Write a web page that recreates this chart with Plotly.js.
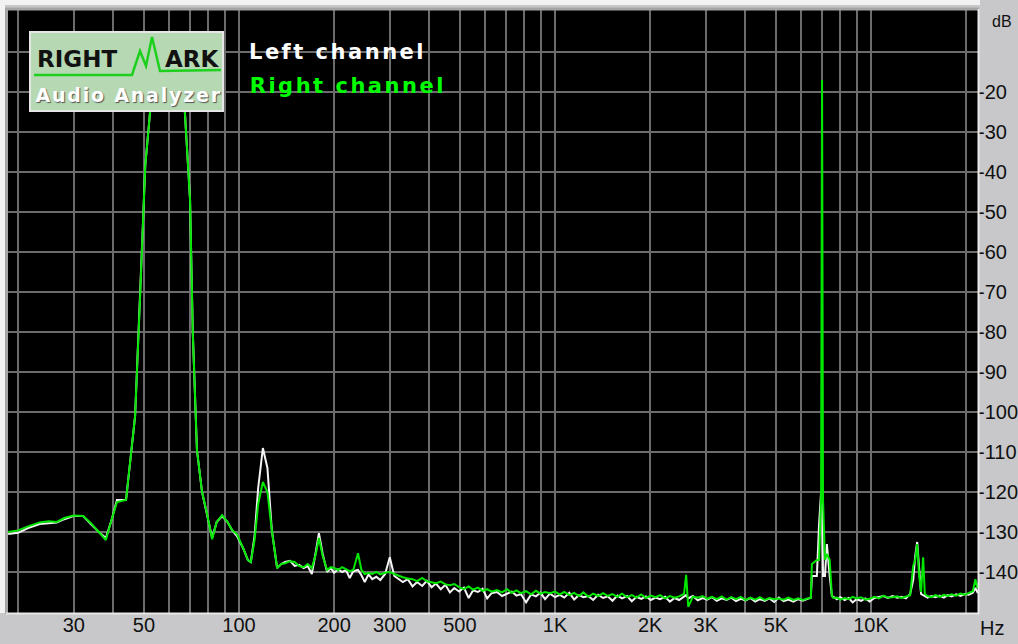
<!DOCTYPE html>
<html>
<head>
<meta charset="utf-8">
<script src="https://cdn.plot.ly/plotly-3.0.1.min.js"></script>
<style>
html,body{margin:0;padding:0;background:#c8c8cb;}
#chart{width:1018px;height:644px;}
g.annotation[data-index="0"] text, g.annotation[data-index="1"] text{letter-spacing:2.5px;}
g.annotation[data-index="4"] text{letter-spacing:1.8px;}
</style>
</head>
<body>
<div id="chart"></div>
<script>
// Frequencies (Hz) shared by both channels
const freq = [18.6,20,21.5,23.4,25,26.5,28,29.9,32.1,34,36,37.9,39.5,41.1,43.9,46.9,48.6,50.5,52.3,55,58,60,62,65,67.4,70,71.4,73.6,76.4,79,82.2,85,88.4,92,95,98.5,103,106.7,109,112,115,119,123,127,132,136,140,145,150,155,160,165,170,175,179,184,190,195,200,206,212,218,224,230,238,244,250,257,264,272,280,290,300,310,320,330,342,354,366,380,393,407,420,435,450,465,480,497,515,533,550,570,590,610,630,655,680,705,730,755,780,810,840,870,900,930,964,1000,1035,1070,1110,1150,1190,1230,1275,1320,1370,1420,1470,1520,1575,1630,1690,1750,1810,1875,1940,2010,2080,2150,2230,2310,2390,2470,2560,2600,2640,2730,2830,2930,3030,3140,3250,3370,3490,3610,3740,3870,4010,4150,4300,4450,4610,4770,4940,5110,5290,5480,5680,5880,6090,6300,6450,6500,6740,6850,6950,7000,7050,7150,7250,7400,7520,7600,7800,8000,8250,8500,8750,9000,9300,9600,9900,10250,10600,10950,11300,11700,12100,12500,12900,13300,13600,13800,14000,14200,14400,14620,14800,15100,15500,16000,16500,17000,17500,18000,18600,19200,19800,20400,21000,21400,21700,22050];

// Left channel level (dB), white trace
const leftCh = [-130.5,-130.2,-129.0,-128.0,-127.8,-127.6,-126.8,-126.0,-126.0,-128.0,-130.0,-131.5,-127.0,-122.0,-122.0,-101.0,-72.0,-38.5,-25.0,-14,-9,-8,-9,-14,-25,-47,-80,-109.5,-120,-125,-131.5,-127.5,-126,-127.5,-129.5,-131,-134,-137,-137.5,-131,-119,-109,-114,-129.5,-139,-138,-137.5,-137.2,-138.5,-138.2,-139,-138.5,-140.5,-135,-130.3,-135.5,-140,-139,-140.2,-139.3,-140,-139.5,-141.5,-139.8,-139.5,-140.8,-142.5,-140.6,-141.8,-141.2,-142.0,-140.5,-136.3,-141,-141.8,-142.5,-141.8,-143.6,-142.5,-143.5,-142.2,-143.8,-142.9,-144.3,-143.2,-145.1,-144.0,-144.9,-143.9,-146.5,-144.6,-145.0,-144.2,-146.6,-145.3,-145.0,-146.0,-145.4,-144.9,-145.9,-145.5,-147.6,-145.6,-146.1,-145.2,-146.8,-145.4,-146.3,-145.7,-146.4,-145.2,-146.9,-145.8,-146.3,-146.0,-147.0,-145.7,-146.5,-146.1,-147.2,-145.9,-146.6,-146.0,-147.3,-146.2,-146.7,-146.1,-147.0,-146.4,-146.8,-146.2,-147.4,-146.5,-147.0,-146.3,-145.8,-146.6,-146.0,-147.1,-146.5,-146.9,-146.3,-147.2,-146.6,-147.0,-146.4,-147.3,-146.7,-147.1,-146.5,-147.4,-146.8,-147.2,-146.6,-147.5,-146.4,-147.3,-146.9,-147.4,-146.8,-147.2,-146.7,-146.4,-141,-141,-128,-120,-120,-141,-141,-133,-141,-146,-146.2,-146.8,-146.3,-147.0,-146.5,-147.6,-146.8,-147.2,-146.6,-147.4,-146.5,-146.2,-146.0,-146.5,-146.0,-146.4,-146.2,-146.6,-145.5,-142.0,-136,-132.5,-140,-145.5,-145.8,-146.0,-146.4,-146.0,-146.3,-145.9,-146.4,-145.8,-146.1,-145.6,-146.0,-145.5,-145.7,-145.2,-144.0,-145.0,-144.5];

// Right channel level (dB), green trace
const rightCh = [-130.0,-129.6,-128.6,-127.6,-127.3,-127.5,-126.5,-125.9,-126.0,-127.8,-130.0,-132.0,-127.0,-122.5,-122.0,-101.0,-72.0,-38.5,-25.0,-14,-9,-8,-9,-14,-25,-47,-80,-109.5,-120,-125,-131.8,-127.5,-125.8,-127.5,-129.5,-130.5,-134,-137,-137.5,-132,-123,-117.5,-120,-129.5,-139,-138,-137.8,-137.3,-137.5,-138.5,-138.8,-138.0,-139,-135.5,-131.5,-136,-139.5,-138.8,-139,-139.5,-138.8,-139.3,-139.8,-139.5,-135.3,-139.5,-140.5,-140.2,-140.5,-140.0,-140.6,-140.2,-140,-140.5,-141.0,-141.3,-141.6,-141.8,-142.3,-141.5,-142.3,-142.5,-142.8,-142.4,-143.1,-143.3,-143.0,-143.8,-144.3,-143.6,-144.4,-143.9,-144.7,-144.3,-144.9,-144.5,-145.1,-144.3,-145.2,-144.6,-145.3,-144.8,-145.6,-144.7,-145.4,-145.0,-145.3,-144.9,-145.6,-145.0,-145.8,-145.2,-146.0,-145.1,-146.2,-145.4,-146.0,-145.3,-146.0,-145.5,-146.2,-145.4,-146.3,-145.8,-146.4,-145.6,-146.5,-145.9,-146.3,-145.8,-146.6,-146.0,-146.4,-146.1,-145.5,-140.7,-148.7,-146.2,-146.4,-146.0,-146.7,-146.2,-146.8,-146.1,-146.9,-146.3,-146.8,-146.2,-147.0,-146.4,-146.9,-146.3,-147.0,-146.5,-146.8,-146.6,-146.9,-146.4,-147.0,-146.6,-147.0,-146.6,-146.5,-138,-137,-137,-122,-17,-122,-137,-135.5,-137,-146,-146.5,-146.4,-146.9,-146.5,-146.8,-146.2,-146.6,-146.3,-146.9,-146.7,-146.2,-146.6,-145.9,-146.4,-146.3,-146.1,-146.5,-146.2,-145.8,-138.5,-137,-133,-141,-145,-136.3,-145.5,-146.0,-146.3,-145.8,-146.2,-145.7,-146.0,-145.6,-145.9,-145.4,-145.7,-145.2,-144.8,-141.8,-144.0,-142];

// Axis ticks
const xTickVals = [20,30,40,50,60,70,80,90,100,200,300,400,500,600,700,800,900,1000,2000,3000,4000,5000,6000,7000,8000,9000,10000,20000];
const xTickText = ['','30','','50','','','','','100','200','300','','500','','','','','1K','2K','3K','','5K','','','','','10K',''];
const yTickVals = [-10,-20,-30,-40,-50,-60,-70,-80,-90,-100,-110,-120,-130,-140];
const yTickText = ['','-20','-30','-40','-50','-60','-70','-80','-90','-100','-110','-120','-130','-140'];

// pixel -> paper helpers for decorations
const PL = 7, PR = 978, PT = 10, PB = 613;
const PX = x => (x - PL) / (PR - PL);
const PY = y => (PB - y) / (PB - PT);
const pt = (x, y) => PX(x) + ',' + PY(y);

const traces = [
  {x: freq, y: leftCh, type: 'scatter', mode: 'lines', name: 'Left channel',
   line: {color: '#f4f4f4', width: 2}, hoverinfo: 'skip'},
  {x: freq, y: rightCh, type: 'scatter', mode: 'lines', name: 'Right channel',
   line: {color: '#00e800', width: 2}, hoverinfo: 'skip'}
];

const axisFont = {family: 'Liberation Sans, Arial, sans-serif', size: 20, color: '#111'};
const boldFam = 'DejaVu Sans, Verdana, sans-serif';

const layout = {
  width: 1018, height: 644,
  margin: {l: PL, r: 1018 - PR, t: PT, b: 644 - PB, pad: 0},
  paper_bgcolor: '#c8c8cb',
  plot_bgcolor: '#000000',
  showlegend: false,
  xaxis: {
    type: 'log', range: [1.2658, 4.3386], fixedrange: true,
    tickvals: xTickVals, ticktext: xTickText, tickfont: axisFont,
    ticks: '', ticklabelstandoff: -2,
    showgrid: true, gridcolor: '#6c6c6c', gridwidth: 2,
    zeroline: false, showline: false
  },
  yaxis: {
    side: 'right', range: [-150.25, 0.5], fixedrange: true,
    tickvals: yTickVals, ticktext: yTickText, tickfont: axisFont,
    ticks: '', ticklabelstandoff: -1,
    showgrid: true, gridcolor: '#6c6c6c', gridwidth: 2,
    zeroline: false, showline: false
  },
  shapes: [
    // window-like white strip at top and left
    {type: 'path', xref: 'paper', yref: 'paper', layer: 'below',
     path: 'M ' + pt(2.5, 613) + ' L ' + pt(2.5, 2.5) + ' L ' + pt(980, 2.5),
     line: {color: '#f2f2f2', width: 5}},
    // sunken frame: dark top/left, light bottom/right
    {type: 'path', xref: 'paper', yref: 'paper', layer: 'above',
     path: 'M ' + pt(6.5, 614) + ' L ' + pt(6.5, 9) + ' L ' + pt(979, 9),
     line: {color: '#a4a4a4', width: 3}},
    {type: 'path', xref: 'paper', yref: 'paper', layer: 'above',
     path: 'M ' + pt(6, 613.5) + ' L ' + pt(978.5, 613.5) + ' L ' + pt(978.5, 9),
     line: {color: '#e8e8e8', width: 2}},
    // logo box
    {type: 'rect', xref: 'paper', yref: 'paper', layer: 'above',
     x0: PX(30), x1: PX(223), y0: PY(111), y1: PY(32),
     fillcolor: '#b6d9b4', line: {color: '#e6e6e6', width: 2}},
    {type: 'path', xref: 'paper', yref: 'paper', layer: 'above',
     path: 'M ' + pt(34, 75) + ' L ' + pt(132, 75) + ' L ' + pt(140, 51) +
           ' L ' + pt(146, 66) + ' L ' + pt(152, 37) + ' L ' + pt(160, 71) +
           ' L ' + pt(221, 70),
     line: {color: '#1ed01e', width: 2.5}}
  ],
  annotations: [
    {text: 'Left channel', xref: 'paper', yref: 'paper', x: PX(262), y: PY(52),
     xanchor: 'left', yanchor: 'middle', showarrow: false,
     font: {family: boldFam, size: 21, color: '#ffffff', weight: 'bold'}},
    {text: 'Right channel', xref: 'paper', yref: 'paper', x: PX(264), y: PY(86),
     xanchor: 'left', yanchor: 'middle', showarrow: false,
     font: {family: boldFam, size: 21, color: '#00ff00', weight: 'bold'}},
    {text: 'RIGHT', xref: 'paper', yref: 'paper', x: PX(35), y: PY(59),
     xanchor: 'left', yanchor: 'middle', showarrow: false,
     font: {family: boldFam, size: 23, color: '#111111', weight: 'bold'}},
    {text: 'ARK', xref: 'paper', yref: 'paper', x: PX(163), y: PY(59),
     xanchor: 'left', yanchor: 'middle', showarrow: false,
     font: {family: boldFam, size: 23, color: '#111111', weight: 'bold'}},
    {text: 'Audio Analyzer', xref: 'paper', yref: 'paper', x: PX(46), y: PY(95),
     xanchor: 'left', yanchor: 'middle', showarrow: false,
     font: {family: boldFam, size: 19, color: '#ffffff', weight: 'bold', shadow: '1px 1px 1px #555555'}},
    {text: 'dB', xref: 'paper', yref: 'paper', x: PX(990), y: PY(21),
     xanchor: 'left', yanchor: 'middle', showarrow: false,
     font: {family: 'Liberation Sans, Arial, sans-serif', size: 16, color: '#111'}},
    {text: 'Hz', xref: 'paper', yref: 'paper', x: PX(978), y: PY(628),
     xanchor: 'left', yanchor: 'middle', showarrow: false,
     font: {family: 'Liberation Sans, Arial, sans-serif', size: 20, color: '#111'}}
  ]
};

Plotly.newPlot('chart', traces, layout, {displayModeBar: false, staticPlot: true});
</script>
</body>
</html>
